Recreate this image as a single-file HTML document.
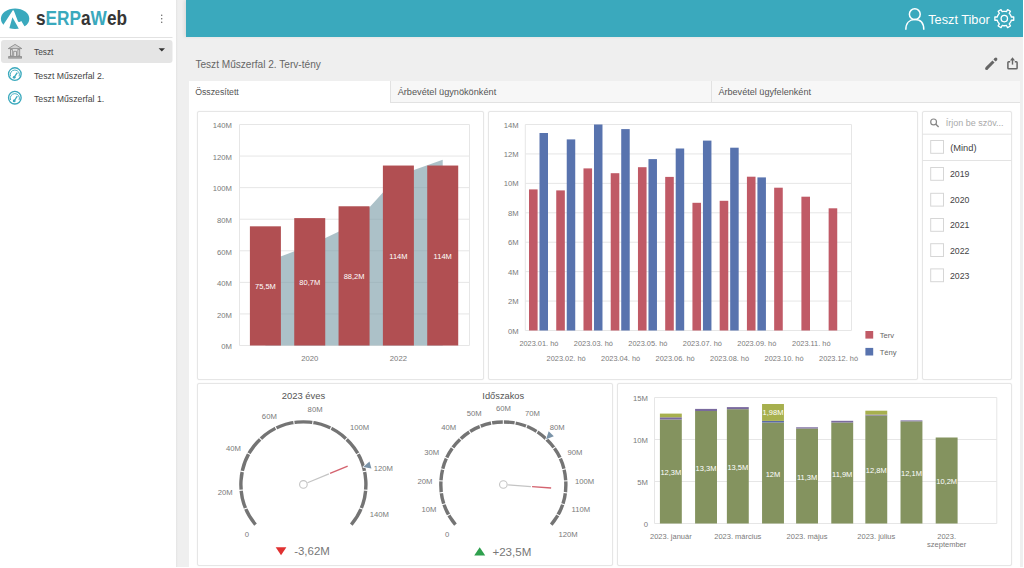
<!DOCTYPE html>
<html><head><meta charset="utf-8"><title>sERPaWeb</title>
<style>
*{box-sizing:border-box}
html,body{margin:0;padding:0}
body{width:1024px;height:568px;overflow:hidden;background:#fff;position:relative;font-family:'Liberation Sans', sans-serif;color:#333}
.abs{position:absolute}
.panel{position:absolute;background:#fff;border:1px solid #e6e6e6;border-radius:2px;box-shadow:0 0 1.5px rgba(0,0,0,.07)}
</style></head><body>

<div class="abs" style="left:176px;top:0;width:847px;height:567px;background:#efefef"></div>
<div class="abs" style="left:176px;top:0;width:2px;height:567px;background:linear-gradient(to right,#e4e4e4,#efefef)"></div>
<div class="abs" style="left:186px;top:0;width:837px;height:37px;background:#3aa9bd;box-shadow:-2px 0 3px rgba(0,0,0,.07)"></div>
<div class="abs" style="left:189px;top:81px;width:831px;height:486px;background:#fff"></div>
<div class="abs" style="left:390px;top:81px;width:321px;height:22px;background:#f7f7f7;border-left:1px solid #e2e2e2;border-bottom:1px solid #e2e2e2"></div>
<div class="abs" style="left:711px;top:81px;width:309px;height:22px;background:#f7f7f7;border-left:1px solid #e2e2e2;border-bottom:1px solid #e2e2e2"></div>
<div class="panel" style="left:197px;top:111px;width:287px;height:269px"></div>
<div class="panel" style="left:488px;top:111px;width:430px;height:269px"></div>
<div class="panel" style="left:922px;top:111px;width:90px;height:269px"></div>
<div class="panel" style="left:197px;top:383px;width:416px;height:183px"></div>
<div class="panel" style="left:617px;top:383px;width:395px;height:183px"></div>
<svg class="abs" style="left:0;top:0" width="1024" height="568" viewBox="0 0 1024 568" font-family="'Liberation Sans', sans-serif">
<clipPath id="lc"><ellipse cx="15.1" cy="18.7" rx="14.2" ry="10.2"/></clipPath>
<ellipse cx="15.1" cy="18.7" rx="14.2" ry="10.2" fill="#3aa9bd"/>
<polygon points="12.8,10.2 3.4,24.8 -3,35 32,35 24.3,26.1 21.3,21.1 19.7,22 18.1,21.8 13.8,10.6" fill="#fff"/>
<polygon points="12.4,17.2 8.56,31 20.08,31" fill="#3aa9bd" clip-path="url(#lc)"/>
<line x1="0" y1="37.5" x2="172.5" y2="37.5" stroke="#e2e2e2" stroke-width="1"/>
<rect x="1" y="40" width="171.5" height="23" rx="3" fill="#e5e5e5"/>
<circle cx="161.7" cy="15.2" r="0.75" fill="#666"/>
<circle cx="161.7" cy="18.8" r="0.75" fill="#666"/>
<circle cx="161.7" cy="22.3" r="0.75" fill="#666"/>
<path d="M158.6,48.3 L165,48.3 L161.8,51.4 Z" fill="#333"/>
<g stroke="#8c8c8c" fill="none" stroke-width="0.9">
<path d="M8.3,48.6 L15.05,44.4 L21.8,48.6 Z" fill="#cfcfcf"/>
<rect x="10.5" y="49.6" width="1.8" height="6.4"/>
<rect x="17.9" y="49.6" width="1.8" height="6.4"/>
<path d="M13.7,56 L13.7,51.3 L16.5,51.3 L16.5,56"/>
<rect x="8.7" y="56.6" width="12.8" height="1.5" fill="#b0b0b0"/>
</g>
<g fill="none" stroke="#3aa9bd">
<circle cx="14.85" cy="74.1" r="6.3" stroke-width="1.35"/>
<path d="M10.6,76.4 A4.6,4.6 0 1 1 19.1,76.4" stroke-width="0.9"/>
<line x1="14.1" y1="77.4" x2="17.3" y2="72.6" stroke-width="1.3"/>
<circle cx="14.2" cy="77.3" r="1.4" fill="#3aa9bd" stroke="none"/>
<circle cx="14.85" cy="97.7" r="6.3" stroke-width="1.35"/>
<path d="M10.6,100 A4.6,4.6 0 1 1 19.1,100" stroke-width="0.9"/>
<line x1="14.1" y1="101" x2="17.3" y2="96.2" stroke-width="1.3"/>
<circle cx="14.2" cy="100.9" r="1.4" fill="#3aa9bd" stroke="none"/>
</g>
<g transform="translate(0,25.2) scale(1,1.12) translate(0,-25.2)"><text x="36" y="25.2" font-size="17.5" font-weight="bold" fill="#363636" textLength="91" lengthAdjust="spacingAndGlyphs">s<tspan fill="#3aa9bd">ERP</tspan>a<tspan fill="#3aa9bd">W</tspan>eb</text></g>
<text x="34.00" y="55.00" font-size="9.8" fill="#444" textLength="19.40" lengthAdjust="spacingAndGlyphs">Teszt</text>
<text x="34.00" y="78.80" font-size="9.8" fill="#444" textLength="70.20" lengthAdjust="spacingAndGlyphs">Teszt Műszerfal 2.</text>
<text x="34.00" y="101.70" font-size="9.8" fill="#444" textLength="70.20" lengthAdjust="spacingAndGlyphs">Teszt Műszerfal 1.</text>
<g fill="none" stroke="#fff" stroke-width="1.5">
<circle cx="914.8" cy="14.2" r="5.4"/>
<path d="M905.8,29.8 C905.8,23 909.5,19.6 914.8,19.6 C920.1,19.6 923.8,23 923.8,29.8"/>
</g>
<g transform="translate(1004.3,18.6)" fill="none" stroke="#fff" stroke-width="1.3">
<path d="M6.68,-2.70 L7.02,-1.62 L9.45,-1.67 L9.45,1.67 L7.02,1.62 L6.68,2.70 L5.67,4.43 L4.91,5.27 L6.17,7.35 L3.28,9.02 L2.11,6.89 L1.00,7.13 L-1.00,7.13 L-2.11,6.89 L-3.28,9.02 L-6.17,7.35 L-4.91,5.27 L-5.67,4.43 L-6.68,2.70 L-7.02,1.62 L-9.45,1.67 L-9.45,-1.67 L-7.02,-1.62 L-6.68,-2.70 L-5.67,-4.43 L-4.91,-5.27 L-6.17,-7.35 L-3.28,-9.02 L-2.11,-6.89 L-1.00,-7.13 L1.00,-7.13 L2.11,-6.89 L3.28,-9.02 L6.17,-7.35 L4.91,-5.27 L5.67,-4.43 Z" stroke-linejoin="round"/>
<circle r="3.2"/>
</g>
<text x="928.20" y="23.60" font-size="12" fill="#fff" textLength="61.60" lengthAdjust="spacingAndGlyphs">Teszt Tibor</text>
<text x="195.40" y="68.00" font-size="10" fill="#666" textLength="125.40" lengthAdjust="spacingAndGlyphs">Teszt Műszerfal 2. Terv-tény</text>
<path d="M986.6,68.4 L993.5,61.5" stroke="#666" stroke-width="3" stroke-linecap="butt"/>
<circle cx="986.6" cy="68.4" r="1.5" fill="#666"/>
<path d="M994.5,60.5 L995.9,59.1" stroke="#666" stroke-width="3" stroke-linecap="butt"/>
<circle cx="995.9" cy="59.1" r="1.5" fill="#666"/>
<path d="M1010.2,61.7 L1008.7,61.7 Q1007.9,61.7 1007.9,62.5 L1007.9,67.9 Q1007.9,68.7 1008.7,68.7 L1016.3,68.7 Q1017.1,68.7 1017.1,67.9 L1017.1,62.5 Q1017.1,61.7 1016.3,61.7 L1014.8,61.7" fill="none" stroke="#666" stroke-width="1.5"/>
<line x1="1012.5" y1="59.6" x2="1012.5" y2="64.6" stroke="#666" stroke-width="1.4"/>
<path d="M1010,60.4 L1012.5,57.3 L1015,60.4 Z" fill="#666"/>
<text x="195.20" y="94.90" font-size="9.2" fill="#555" textLength="43.60" lengthAdjust="spacingAndGlyphs">Összesített</text>
<text x="397.70" y="94.60" font-size="9.2" fill="#555" textLength="98.50" lengthAdjust="spacingAndGlyphs">Árbevétel ügynökönként</text>
<text x="718.40" y="94.60" font-size="9.2" fill="#555" textLength="92.60" lengthAdjust="spacingAndGlyphs">Árbevétel ügyfelenként</text>
<line x1="239.5" y1="345.50" x2="469.5" y2="345.50" stroke="#e6e6e6" stroke-width="1"/>
<text x="232.00" y="349.30" font-size="7.7" fill="#7a7a7a" text-anchor="end">0M</text>
<line x1="239.5" y1="313.93" x2="469.5" y2="313.93" stroke="#e6e6e6" stroke-width="1"/>
<text x="232.00" y="317.73" font-size="7.7" fill="#7a7a7a" text-anchor="end">20M</text>
<line x1="239.5" y1="282.36" x2="469.5" y2="282.36" stroke="#e6e6e6" stroke-width="1"/>
<text x="232.00" y="286.16" font-size="7.7" fill="#7a7a7a" text-anchor="end">40M</text>
<line x1="239.5" y1="250.79" x2="469.5" y2="250.79" stroke="#e6e6e6" stroke-width="1"/>
<text x="232.00" y="254.59" font-size="7.7" fill="#7a7a7a" text-anchor="end">60M</text>
<line x1="239.5" y1="219.21" x2="469.5" y2="219.21" stroke="#e6e6e6" stroke-width="1"/>
<text x="232.00" y="223.01" font-size="7.7" fill="#7a7a7a" text-anchor="end">80M</text>
<line x1="239.5" y1="187.64" x2="469.5" y2="187.64" stroke="#e6e6e6" stroke-width="1"/>
<text x="232.00" y="191.44" font-size="7.7" fill="#7a7a7a" text-anchor="end">100M</text>
<line x1="239.5" y1="156.07" x2="469.5" y2="156.07" stroke="#e6e6e6" stroke-width="1"/>
<text x="232.00" y="159.87" font-size="7.7" fill="#7a7a7a" text-anchor="end">120M</text>
<line x1="239.5" y1="124.50" x2="469.5" y2="124.50" stroke="#e6e6e6" stroke-width="1"/>
<text x="232.00" y="128.30" font-size="7.7" fill="#7a7a7a" text-anchor="end">140M</text>
<line x1="239.5" y1="124.5" x2="239.5" y2="345.5" stroke="#e6e6e6"/>
<line x1="469.5" y1="124.5" x2="469.5" y2="345.5" stroke="#e6e6e6"/>
<polygon points="265.40,345.5 265.40,262.31 309.73,245.42 354.06,224.27 398.39,175.49 442.72,159.83 442.72,345.5" fill="#7f9faa" fill-opacity="0.65"/>
<rect x="249.90" y="226.32" width="31" height="119.18" fill="#b14f52"/>
<text x="265.40" y="289.31" font-size="7.5" fill="#fff" text-anchor="middle">75,5M</text>
<rect x="294.23" y="218.11" width="31" height="127.39" fill="#b14f52"/>
<text x="309.73" y="285.20" font-size="7.5" fill="#fff" text-anchor="middle">80,7M</text>
<rect x="338.56" y="206.27" width="31" height="139.23" fill="#b14f52"/>
<text x="354.06" y="279.28" font-size="7.5" fill="#fff" text-anchor="middle">88,2M</text>
<rect x="382.89" y="165.54" width="31" height="179.96" fill="#b14f52"/>
<text x="398.39" y="258.92" font-size="7.5" fill="#fff" text-anchor="middle">114M</text>
<rect x="427.22" y="165.54" width="31" height="179.96" fill="#b14f52"/>
<text x="442.72" y="258.92" font-size="7.5" fill="#fff" text-anchor="middle">114M</text>
<text x="309.73" y="361.20" font-size="7.7" fill="#7a7a7a" text-anchor="middle">2020</text>
<text x="398.39" y="361.20" font-size="7.7" fill="#7a7a7a" text-anchor="middle">2022</text>
<line x1="525.3" y1="330.50" x2="851.5" y2="330.50" stroke="#e6e6e6"/>
<text x="518.60" y="333.60" font-size="7.7" fill="#7a7a7a" text-anchor="end">0M</text>
<line x1="525.3" y1="301.07" x2="851.5" y2="301.07" stroke="#e6e6e6"/>
<text x="518.60" y="304.17" font-size="7.7" fill="#7a7a7a" text-anchor="end">2M</text>
<line x1="525.3" y1="271.64" x2="851.5" y2="271.64" stroke="#e6e6e6"/>
<text x="518.60" y="274.74" font-size="7.7" fill="#7a7a7a" text-anchor="end">4M</text>
<line x1="525.3" y1="242.21" x2="851.5" y2="242.21" stroke="#e6e6e6"/>
<text x="518.60" y="245.31" font-size="7.7" fill="#7a7a7a" text-anchor="end">6M</text>
<line x1="525.3" y1="212.79" x2="851.5" y2="212.79" stroke="#e6e6e6"/>
<text x="518.60" y="215.89" font-size="7.7" fill="#7a7a7a" text-anchor="end">8M</text>
<line x1="525.3" y1="183.36" x2="851.5" y2="183.36" stroke="#e6e6e6"/>
<text x="518.60" y="186.46" font-size="7.7" fill="#7a7a7a" text-anchor="end">10M</text>
<line x1="525.3" y1="153.93" x2="851.5" y2="153.93" stroke="#e6e6e6"/>
<text x="518.60" y="157.03" font-size="7.7" fill="#7a7a7a" text-anchor="end">12M</text>
<line x1="525.3" y1="124.50" x2="851.5" y2="124.50" stroke="#e6e6e6"/>
<text x="518.60" y="127.60" font-size="7.7" fill="#7a7a7a" text-anchor="end">14M</text>
<line x1="525.3" y1="124.5" x2="525.3" y2="330.5" stroke="#e6e6e6"/>
<line x1="851.5" y1="124.5" x2="851.5" y2="330.5" stroke="#e6e6e6"/>
<rect x="529.00" y="189.4" width="8.6" height="141.10" fill="#c05a66"/>
<rect x="539.50" y="133" width="8.5" height="197.50" fill="#5873ae"/>
<text x="538.90" y="345.90" font-size="7.4" fill="#7a7a7a" text-anchor="middle">2023.01. hó</text>
<rect x="556.24" y="190.4" width="8.6" height="140.10" fill="#c05a66"/>
<rect x="566.74" y="139.4" width="8.5" height="191.10" fill="#5873ae"/>
<text x="566.14" y="361.00" font-size="7.4" fill="#7a7a7a" text-anchor="middle">2023.02. hó</text>
<rect x="583.48" y="168.4" width="8.6" height="162.10" fill="#c05a66"/>
<rect x="593.98" y="124.5" width="8.5" height="206.00" fill="#5873ae"/>
<text x="593.38" y="345.90" font-size="7.4" fill="#7a7a7a" text-anchor="middle">2023.03. hó</text>
<rect x="610.72" y="173.2" width="8.6" height="157.30" fill="#c05a66"/>
<rect x="621.22" y="129.1" width="8.5" height="201.40" fill="#5873ae"/>
<text x="620.62" y="361.00" font-size="7.4" fill="#7a7a7a" text-anchor="middle">2023.04. hó</text>
<rect x="637.96" y="167.2" width="8.6" height="163.30" fill="#c05a66"/>
<rect x="648.46" y="159.1" width="8.5" height="171.40" fill="#5873ae"/>
<text x="647.86" y="345.90" font-size="7.4" fill="#7a7a7a" text-anchor="middle">2023.05. hó</text>
<rect x="665.20" y="176.9" width="8.6" height="153.60" fill="#c05a66"/>
<rect x="675.70" y="148.5" width="8.5" height="182.00" fill="#5873ae"/>
<text x="675.10" y="361.00" font-size="7.4" fill="#7a7a7a" text-anchor="middle">2023.06. hó</text>
<rect x="692.44" y="202.8" width="8.6" height="127.70" fill="#c05a66"/>
<rect x="702.94" y="140.6" width="8.5" height="189.90" fill="#5873ae"/>
<text x="702.34" y="345.90" font-size="7.4" fill="#7a7a7a" text-anchor="middle">2023.07. hó</text>
<rect x="719.68" y="200.8" width="8.6" height="129.70" fill="#c05a66"/>
<rect x="730.18" y="147.7" width="8.5" height="182.80" fill="#5873ae"/>
<text x="729.58" y="361.00" font-size="7.4" fill="#7a7a7a" text-anchor="middle">2023.08. hó</text>
<rect x="746.92" y="176.7" width="8.6" height="153.80" fill="#c05a66"/>
<rect x="757.42" y="177.4" width="8.5" height="153.10" fill="#5873ae"/>
<text x="756.82" y="345.90" font-size="7.4" fill="#7a7a7a" text-anchor="middle">2023.09. hó</text>
<rect x="774.16" y="187.7" width="8.6" height="142.80" fill="#c05a66"/>
<text x="784.06" y="361.00" font-size="7.4" fill="#7a7a7a" text-anchor="middle">2023.10. hó</text>
<rect x="801.40" y="196.7" width="8.6" height="133.80" fill="#c05a66"/>
<text x="811.30" y="345.90" font-size="7.4" fill="#7a7a7a" text-anchor="middle">2023.11. hó</text>
<rect x="828.64" y="208.3" width="8.6" height="122.20" fill="#c05a66"/>
<text x="838.54" y="361.00" font-size="7.4" fill="#7a7a7a" text-anchor="middle">2023.12. hó</text>
<rect x="865.4" y="331" width="7.8" height="7.6" fill="#c05a66"/>
<rect x="865.4" y="347.9" width="7.8" height="7.6" fill="#5873ae"/>
<text x="879.70" y="337.60" font-size="7.6" fill="#666" text-anchor="start">Terv</text>
<text x="879.70" y="354.60" font-size="7.6" fill="#666" text-anchor="start">Tény</text>
<path d="M255.52,524.57 A62.5,62.5 0 1 1 351.28,524.57" fill="none" stroke="#747474" stroke-width="3.4"/>
<line x1="247.76" y1="507.64" x2="243.70" y2="509.33" stroke="#fff" stroke-width="1.1"/>
<line x1="243.36" y1="490.00" x2="238.98" y2="490.41" stroke="#fff" stroke-width="1.1"/>
<line x1="244.42" y1="471.86" x2="240.11" y2="470.95" stroke="#fff" stroke-width="1.1"/>
<line x1="250.83" y1="454.86" x2="247.00" y2="452.70" stroke="#fff" stroke-width="1.1"/>
<line x1="262.02" y1="440.54" x2="259.00" y2="437.34" stroke="#fff" stroke-width="1.1"/>
<line x1="276.97" y1="430.20" x2="275.04" y2="426.25" stroke="#fff" stroke-width="1.1"/>
<line x1="294.31" y1="424.79" x2="293.65" y2="420.44" stroke="#fff" stroke-width="1.1"/>
<line x1="312.49" y1="424.79" x2="313.15" y2="420.44" stroke="#fff" stroke-width="1.1"/>
<line x1="329.83" y1="430.20" x2="331.76" y2="426.25" stroke="#fff" stroke-width="1.1"/>
<line x1="344.78" y1="440.54" x2="347.80" y2="437.34" stroke="#fff" stroke-width="1.1"/>
<line x1="355.97" y1="454.86" x2="359.80" y2="452.70" stroke="#fff" stroke-width="1.1"/>
<line x1="362.38" y1="471.86" x2="366.69" y2="470.95" stroke="#fff" stroke-width="1.1"/>
<line x1="363.44" y1="490.00" x2="367.82" y2="490.41" stroke="#fff" stroke-width="1.1"/>
<line x1="359.04" y1="507.64" x2="363.10" y2="509.33" stroke="#fff" stroke-width="1.1"/>
<text x="247.00" y="536.60" font-size="7.7" fill="#7a7a7a" text-anchor="middle">0</text>
<text x="225.30" y="494.80" font-size="7.7" fill="#7a7a7a" text-anchor="middle">20M</text>
<text x="233.40" y="450.60" font-size="7.7" fill="#7a7a7a" text-anchor="middle">40M</text>
<text x="269.35" y="418.50" font-size="7.7" fill="#7a7a7a" text-anchor="middle">60M</text>
<text x="315.10" y="411.70" font-size="7.7" fill="#7a7a7a" text-anchor="middle">80M</text>
<text x="359.55" y="430.10" font-size="7.7" fill="#7a7a7a" text-anchor="middle">100M</text>
<text x="383.25" y="471.30" font-size="7.7" fill="#7a7a7a" text-anchor="middle">120M</text>
<text x="379.40" y="517.20" font-size="7.7" fill="#7a7a7a" text-anchor="middle">140M</text>
<line x1="307.47" y1="482.72" x2="328.92" y2="473.88" stroke="#c4c4c4" stroke-width="1.2"/>
<line x1="330.03" y1="473.43" x2="347.69" y2="466.15" stroke="#d4636f" stroke-width="1.4"/>
<circle cx="303.4" cy="484.4" r="3.8" fill="#fff" stroke="#c4c4c4" stroke-width="1.1"/>
<polygon points="363.25,467.10 369.48,461.61 371.45,468.41" fill="#7a93a8" stroke="#fff" stroke-width="1.4" stroke-linejoin="round" paint-order="stroke"/>
<path d="M455.47,524.67 A62.5,62.5 0 1 1 551.23,524.67" fill="none" stroke="#747474" stroke-width="3.4"/>
<line x1="450.70" y1="513.89" x2="446.85" y2="516.03" stroke="#fff" stroke-width="1.1"/>
<line x1="446.11" y1="503.47" x2="441.93" y2="504.85" stroke="#fff" stroke-width="1.1"/>
<line x1="443.57" y1="492.37" x2="439.20" y2="492.95" stroke="#fff" stroke-width="1.1"/>
<line x1="443.15" y1="480.99" x2="438.76" y2="480.74" stroke="#fff" stroke-width="1.1"/>
<line x1="444.88" y1="469.74" x2="440.62" y2="468.67" stroke="#fff" stroke-width="1.1"/>
<line x1="448.70" y1="459.02" x2="444.71" y2="457.16" stroke="#fff" stroke-width="1.1"/>
<line x1="454.46" y1="449.20" x2="450.90" y2="446.62" stroke="#fff" stroke-width="1.1"/>
<line x1="461.97" y1="440.64" x2="458.95" y2="437.44" stroke="#fff" stroke-width="1.1"/>
<line x1="470.95" y1="433.64" x2="468.59" y2="429.93" stroke="#fff" stroke-width="1.1"/>
<line x1="481.09" y1="428.46" x2="479.46" y2="424.37" stroke="#fff" stroke-width="1.1"/>
<line x1="492.02" y1="425.27" x2="491.19" y2="420.95" stroke="#fff" stroke-width="1.1"/>
<line x1="503.35" y1="424.20" x2="503.35" y2="419.80" stroke="#fff" stroke-width="1.1"/>
<line x1="514.68" y1="425.27" x2="515.51" y2="420.95" stroke="#fff" stroke-width="1.1"/>
<line x1="525.61" y1="428.46" x2="527.24" y2="424.37" stroke="#fff" stroke-width="1.1"/>
<line x1="535.75" y1="433.64" x2="538.11" y2="429.93" stroke="#fff" stroke-width="1.1"/>
<line x1="544.73" y1="440.64" x2="547.75" y2="437.44" stroke="#fff" stroke-width="1.1"/>
<line x1="552.24" y1="449.20" x2="555.80" y2="446.62" stroke="#fff" stroke-width="1.1"/>
<line x1="558.00" y1="459.02" x2="561.99" y2="457.16" stroke="#fff" stroke-width="1.1"/>
<line x1="561.82" y1="469.74" x2="566.08" y2="468.67" stroke="#fff" stroke-width="1.1"/>
<line x1="563.55" y1="480.99" x2="567.94" y2="480.74" stroke="#fff" stroke-width="1.1"/>
<line x1="563.13" y1="492.37" x2="567.50" y2="492.95" stroke="#fff" stroke-width="1.1"/>
<line x1="560.59" y1="503.47" x2="564.77" y2="504.85" stroke="#fff" stroke-width="1.1"/>
<line x1="556.00" y1="513.89" x2="559.85" y2="516.03" stroke="#fff" stroke-width="1.1"/>
<text x="447.20" y="536.60" font-size="7.7" fill="#7a7a7a" text-anchor="middle">0</text>
<text x="428.95" y="511.90" font-size="7.7" fill="#7a7a7a" text-anchor="middle">10M</text>
<text x="424.95" y="483.90" font-size="7.7" fill="#7a7a7a" text-anchor="middle">20M</text>
<text x="431.65" y="454.90" font-size="7.7" fill="#7a7a7a" text-anchor="middle">30M</text>
<text x="448.65" y="430.30" font-size="7.7" fill="#7a7a7a" text-anchor="middle">40M</text>
<text x="474.30" y="416.40" font-size="7.7" fill="#7a7a7a" text-anchor="middle">50M</text>
<text x="503.50" y="410.80" font-size="7.7" fill="#7a7a7a" text-anchor="middle">60M</text>
<text x="532.55" y="416.40" font-size="7.7" fill="#7a7a7a" text-anchor="middle">70M</text>
<text x="557.30" y="430.30" font-size="7.7" fill="#7a7a7a" text-anchor="middle">80M</text>
<text x="575.05" y="455.10" font-size="7.7" fill="#7a7a7a" text-anchor="middle">90M</text>
<text x="584.50" y="483.90" font-size="7.7" fill="#7a7a7a" text-anchor="middle">100M</text>
<text x="580.90" y="511.90" font-size="7.7" fill="#7a7a7a" text-anchor="middle">110M</text>
<text x="568.00" y="536.60" font-size="7.7" fill="#7a7a7a" text-anchor="middle">120M</text>
<line x1="507.74" y1="484.83" x2="530.87" y2="486.55" stroke="#c4c4c4" stroke-width="1.2"/>
<line x1="532.07" y1="486.63" x2="551.12" y2="488.05" stroke="#d4636f" stroke-width="1.4"/>
<circle cx="503.35" cy="484.5" r="3.8" fill="#fff" stroke="#c4c4c4" stroke-width="1.1"/>
<polygon points="546.10,439.18 548.68,431.29 553.83,436.15" fill="#7a93a8" stroke="#fff" stroke-width="1.4" stroke-linejoin="round" paint-order="stroke"/>
<text x="281.70" y="398.90" font-size="9.3" fill="#555" textLength="43.50" lengthAdjust="spacingAndGlyphs">2023 éves</text>
<text x="482.30" y="398.90" font-size="9.3" fill="#555" textLength="41.90" lengthAdjust="spacingAndGlyphs">Időszakos</text>
<polygon points="275.7,547.3 286.4,547.3 281.05,555.3" fill="#e03131"/>
<text x="294.20" y="555.40" font-size="11" fill="#777" textLength="35.60" lengthAdjust="spacingAndGlyphs">-3,62M</text>
<polygon points="474.2,555.5 485.2,555.5 479.7,547.2" fill="#2fa04e"/>
<text x="492.40" y="555.60" font-size="11" fill="#777" textLength="38.90" lengthAdjust="spacingAndGlyphs">+23,5M</text>
<line x1="654.5" y1="523.50" x2="996.8" y2="523.50" stroke="#e6e6e6"/>
<text x="648.00" y="526.70" font-size="7.7" fill="#7a7a7a" text-anchor="end">0</text>
<line x1="654.5" y1="481.50" x2="996.8" y2="481.50" stroke="#e6e6e6"/>
<text x="648.00" y="484.70" font-size="7.7" fill="#7a7a7a" text-anchor="end">5M</text>
<line x1="654.5" y1="439.50" x2="996.8" y2="439.50" stroke="#e6e6e6"/>
<text x="648.00" y="442.70" font-size="7.7" fill="#7a7a7a" text-anchor="end">10M</text>
<line x1="654.5" y1="397.50" x2="996.8" y2="397.50" stroke="#e6e6e6"/>
<text x="648.00" y="400.70" font-size="7.7" fill="#7a7a7a" text-anchor="end">15M</text>
<line x1="654.5" y1="397.5" x2="654.5" y2="523.5" stroke="#e6e6e6"/>
<line x1="996.8" y1="397.5" x2="996.8" y2="523.5" stroke="#e6e6e6"/>
<rect x="659.90" y="419.5" width="21.9" height="104.00" fill="#84935f"/>
<rect x="659.90" y="417.3" width="21.9" height="2.20" fill="#7a6a9e"/>
<rect x="659.90" y="413.6" width="21.9" height="3.70" fill="#a7b04e"/>
<text x="670.85" y="475.10" font-size="7.5" fill="#fff" text-anchor="middle">12,3M</text>
<rect x="695.09" y="411.0" width="21.9" height="112.50" fill="#84935f"/>
<rect x="695.09" y="408.9" width="21.9" height="2.10" fill="#7a6a9e"/>
<text x="706.04" y="470.85" font-size="7.5" fill="#fff" text-anchor="middle">13,3M</text>
<rect x="726.87" y="409.2" width="21.9" height="114.30" fill="#84935f"/>
<rect x="726.87" y="407.1" width="21.9" height="2.10" fill="#7a6a9e"/>
<text x="737.82" y="469.95" font-size="7.5" fill="#fff" text-anchor="middle">13,5M</text>
<rect x="762.05" y="422.5" width="21.9" height="101.00" fill="#84935f"/>
<rect x="762.05" y="420.9" width="21.9" height="1.60" fill="#5b6aa6"/>
<rect x="762.05" y="404.0" width="21.9" height="16.90" fill="#a7b04e"/>
<text x="773.00" y="476.60" font-size="7.5" fill="#fff" text-anchor="middle">12M</text>
<text x="773.00" y="415.45" font-size="7.5" fill="#fff" text-anchor="middle">1,98M</text>
<rect x="796.10" y="428.5" width="21.9" height="95.00" fill="#84935f"/>
<rect x="796.10" y="427.3" width="21.9" height="1.20" fill="#7a6a9e"/>
<text x="807.05" y="479.60" font-size="7.5" fill="#fff" text-anchor="middle">11,3M</text>
<rect x="831.28" y="422.5" width="21.9" height="101.00" fill="#84935f"/>
<rect x="831.28" y="420.8" width="21.9" height="1.70" fill="#7a6a9e"/>
<text x="842.24" y="476.60" font-size="7.5" fill="#fff" text-anchor="middle">11,9M</text>
<rect x="865.34" y="415.5" width="21.9" height="108.00" fill="#84935f"/>
<rect x="865.34" y="414.6" width="21.9" height="0.90" fill="#7a6a9e"/>
<rect x="865.34" y="410.7" width="21.9" height="3.90" fill="#a7b04e"/>
<text x="876.29" y="473.10" font-size="7.5" fill="#fff" text-anchor="middle">12,8M</text>
<rect x="900.52" y="421.3" width="21.9" height="102.20" fill="#84935f"/>
<rect x="900.52" y="420.4" width="21.9" height="0.90" fill="#7a6a9e"/>
<text x="911.47" y="476.00" font-size="7.5" fill="#fff" text-anchor="middle">12,1M</text>
<rect x="935.70" y="437.5" width="21.9" height="86.00" fill="#84935f"/>
<text x="946.65" y="484.10" font-size="7.5" fill="#fff" text-anchor="middle">10,2M</text>
<text x="670.85" y="538.80" font-size="7.5" fill="#7a7a7a" text-anchor="middle">2023. január</text>
<text x="737.82" y="538.80" font-size="7.5" fill="#7a7a7a" text-anchor="middle">2023. március</text>
<text x="807.05" y="538.80" font-size="7.5" fill="#7a7a7a" text-anchor="middle">2023. május</text>
<text x="876.29" y="538.80" font-size="7.5" fill="#7a7a7a" text-anchor="middle">2023. július</text>
<text x="946.65" y="538.80" font-size="7.5" fill="#7a7a7a" text-anchor="middle">2023.</text>
<text x="946.65" y="546.60" font-size="7.5" fill="#7a7a7a" text-anchor="middle">szeptember</text>
<line x1="922.5" y1="134.2" x2="1011.5" y2="134.2" stroke="#e3e3e3"/>
<line x1="922.5" y1="160.5" x2="1011.5" y2="160.5" stroke="#e3e3e3"/>
<circle cx="933.6" cy="121.9" r="2.9" fill="none" stroke="#888" stroke-width="1.2"/>
<line x1="935.7" y1="124" x2="938.6" y2="126.9" stroke="#888" stroke-width="1.4"/>
<text x="945.70" y="126.00" font-size="9.6" fill="#aaa" textLength="57.80" lengthAdjust="spacingAndGlyphs">Írjon be szöv...</text>
<text x="950.20" y="151.00" font-size="9.7" fill="#444" textLength="26.40" lengthAdjust="spacingAndGlyphs">(Mind)</text>
<text x="950.00" y="177.30" font-size="9.7" fill="#444" textLength="19.50" lengthAdjust="spacingAndGlyphs">2019</text>
<text x="950.00" y="203.10" font-size="9.7" fill="#444" textLength="19.50" lengthAdjust="spacingAndGlyphs">2020</text>
<text x="950.00" y="228.30" font-size="9.7" fill="#444" textLength="19.50" lengthAdjust="spacingAndGlyphs">2021</text>
<text x="950.00" y="253.50" font-size="9.7" fill="#444" textLength="19.50" lengthAdjust="spacingAndGlyphs">2022</text>
<text x="950.00" y="278.70" font-size="9.7" fill="#444" textLength="19.50" lengthAdjust="spacingAndGlyphs">2023</text>
<rect x="930.7" y="140.5" width="12.8" height="12.8" fill="#fff" stroke="#d6d6d6"/>
<rect x="930.7" y="167.5" width="12.8" height="12.8" fill="#fff" stroke="#d6d6d6"/>
<rect x="930.7" y="193.3" width="12.8" height="12.8" fill="#fff" stroke="#d6d6d6"/>
<rect x="930.7" y="218.5" width="12.8" height="12.8" fill="#fff" stroke="#d6d6d6"/>
<rect x="930.7" y="243.7" width="12.8" height="12.8" fill="#fff" stroke="#d6d6d6"/>
<rect x="930.7" y="268.9" width="12.8" height="12.8" fill="#fff" stroke="#d6d6d6"/>
</svg>
</body></html>
